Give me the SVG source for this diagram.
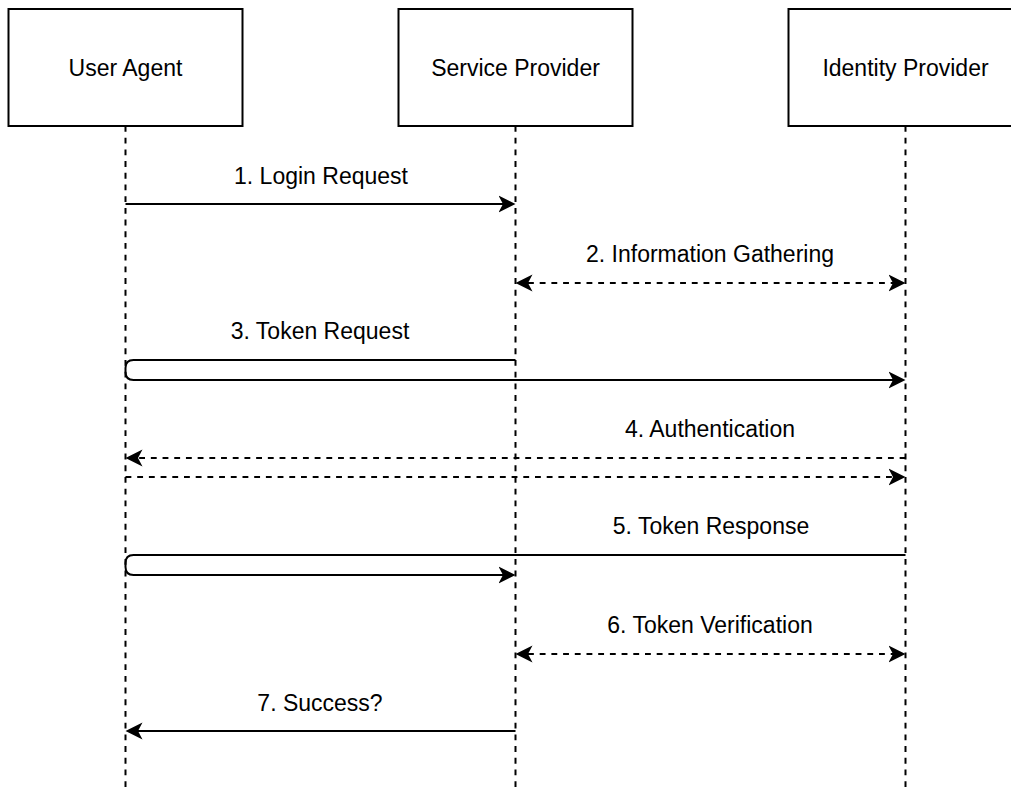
<svg xmlns="http://www.w3.org/2000/svg" width="1011" height="789" viewBox="0 0 1011 789">
  <style>
    .box { fill: #ffffff; stroke: #000000; stroke-width: 2; }
    .life { fill: none; stroke: #000000; stroke-width: 2; stroke-dasharray: 5.85 5.85; }
    .msg { fill: none; stroke: #000000; stroke-width: 2; }
    .dash { stroke-dasharray: 5.85 5.85; }
    text { font-family: "Liberation Sans", Arial, Helvetica, sans-serif; font-size: 23px; fill: #000000; text-anchor: middle; }
  </style>
  <defs>
    <!-- classic block arrowhead; reference point is the notch so the stroke ends inside the head -->
    <marker id="arrow" viewBox="0 0 18 18" markerUnits="userSpaceOnUse" markerWidth="18" markerHeight="18" refX="4.5" refY="9" orient="auto-start-reverse">
      <path d="M0,0.5 L17,9 L0,17.5 L4.5,9 Z" fill="#000000"/>
    </marker>
  </defs>

  <!-- lifelines -->
  <g id="lifelines">
    <line class="life" x1="125.5" y1="126" x2="125.5" y2="789"/>
    <line class="life" x1="515.5" y1="126" x2="515.5" y2="789"/>
    <line class="life" x1="905.5" y1="126" x2="905.5" y2="789"/>
  </g>

  <!-- participants -->
  <g id="user-agent">
    <rect class="box" x="8.5" y="9" width="234" height="117"/>
    <text x="125.5" y="75.5">User Agent</text>
  </g>
  <g id="service-provider">
    <rect class="box" x="398.5" y="9" width="234" height="117"/>
    <text x="515.5" y="75.5">Service Provider</text>
  </g>
  <g id="identity-provider">
    <rect class="box" x="788.5" y="9" width="234" height="117"/>
    <text x="905.5" y="75.5">Identity Provider</text>
  </g>

  <!-- messages -->
  <g id="connectors">
    <path class="msg" d="M125.5,204 H503" marker-end="url(#arrow)"/>
    <path class="msg dash" d="M528,283 H893" marker-start="url(#arrow)" marker-end="url(#arrow)"/>
    <path class="msg" d="M515.5,360 H133.5 Q125.5,360 125.5,368 V372 Q125.5,380 133.5,380 H893" marker-end="url(#arrow)"/>
    <path class="msg dash" d="M905.5,458 H138" marker-end="url(#arrow)"/>
    <path class="msg dash" d="M125.5,477 H893" marker-end="url(#arrow)"/>
    <path class="msg" d="M905.5,555 H133.5 Q125.5,555 125.5,563 V567 Q125.5,575 133.5,575 H503" marker-end="url(#arrow)"/>
    <path class="msg dash" d="M528,654 H893" marker-start="url(#arrow)" marker-end="url(#arrow)"/>
    <path class="msg" d="M515.5,731 H138" marker-end="url(#arrow)"/>
  </g>

  <!-- message labels -->
  <g id="labels">
    <text x="321" y="184">1. Login Request</text>
    <text x="710" y="262">2. Information Gathering</text>
    <text x="320" y="339">3. Token Request</text>
    <text x="710" y="437">4. Authentication</text>
    <text x="711" y="534">5. Token Response</text>
    <text x="710" y="633">6. Token Verification</text>
    <text x="320" y="711">7. Success?</text>
  </g>
</svg>
